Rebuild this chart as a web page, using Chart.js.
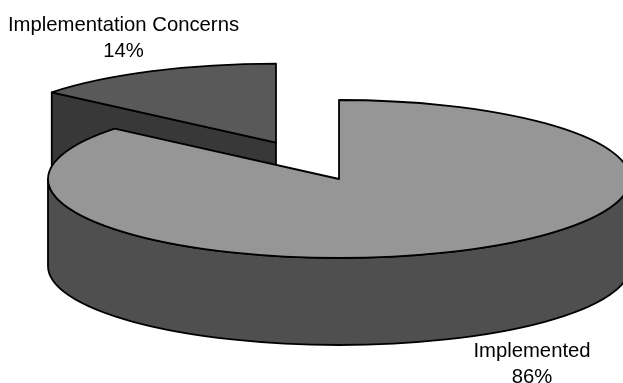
<!DOCTYPE html>
<html>
<head>
<meta charset="utf-8">
<script src="https://cdn.jsdelivr.net/npm/chart.js@4"></script>
<style>
    body { margin: 0; background: #fff; }
    canvas { display: block; }
</style>
</head>
<body>
<canvas id="grafica" width="623" height="383"></canvas>
<script>
const categorias = ["Implemented", "Implementation Concerns"];
const porcentajes = [86, 14];
const separacion = [0, 148];          // how far each slice is pulled out, before tilting
const colorTapa = ["#969696", "#595959"];
const colorLado = ["#4f4f4f", "#383838"];

const INCLINACION = 79 / 291;         // ellipse height / width of the pie top
const PROFUNDIDAD = 87;               // pie wall height
const RADIO = 291;
const GROSOR = 1.8;

// label blocks: centre x and the baseline of each line
const etiquetas = [
    { x: 532, y1: 357, y2: 383 },
    { x: 123.5, y1: 31, y2: 57 }
];

// =========================
// 3D PIE
// =========================
function centroArco(el, i) {
    const medio = (el.startAngle + el.endAngle) / 2;
    return {
        x: el.x + Math.cos(medio) * separacion[i],
        y: el.y + Math.sin(medio) * separacion[i] * INCLINACION
    };
}

function puntoBorde(c, angulo) {
    return {
        x: c.x + Math.cos(angulo) * RADIO,
        y: c.y + Math.sin(angulo) * RADIO * INCLINACION
    };
}

function trazar(ctx, color) {
    ctx.fillStyle = color;
    ctx.fill();
    ctx.lineWidth = GROSOR;
    ctx.lineJoin = "round";
    ctx.strokeStyle = "#000";
    ctx.stroke();
}

// outer wall, only the part of the rim that faces the viewer
function dibujarPared(ctx, el, c, color) {
    const a = Math.max(el.startAngle, 0);
    const b = Math.min(el.endAngle, Math.PI);
    if (b <= a) return;
    ctx.beginPath();
    ctx.ellipse(c.x, c.y, RADIO, RADIO * INCLINACION, 0, a, b);
    ctx.ellipse(c.x, c.y + PROFUNDIDAD, RADIO, RADIO * INCLINACION, 0, b, a, true);
    ctx.closePath();
    trazar(ctx, color);
}

// flat cut face of a pulled out slice
function dibujarCorte(ctx, el, c, color) {
    const p = puntoBorde(c, el.startAngle);
    ctx.beginPath();
    ctx.moveTo(p.x, p.y);
    ctx.lineTo(c.x, c.y);
    ctx.lineTo(c.x, c.y + PROFUNDIDAD);
    ctx.lineTo(p.x, p.y + PROFUNDIDAD);
    ctx.closePath();
    trazar(ctx, color);
}

function dibujarTapa(ctx, el, c) {
    // the fill comes from the arc element itself, moved out and squashed
    ctx.save();
    ctx.translate(c.x - el.x, c.y);
    ctx.scale(1, INCLINACION);
    ctx.translate(0, -el.y);
    el.draw(ctx);
    ctx.restore();

    ctx.beginPath();
    ctx.moveTo(c.x, c.y);
    ctx.ellipse(c.x, c.y, RADIO, RADIO * INCLINACION, 0, el.startAngle, el.endAngle);
    ctx.closePath();
    ctx.lineWidth = GROSOR;
    ctx.lineJoin = "round";
    ctx.strokeStyle = "#000";
    ctx.stroke();
}

const pastel3d = {
    id: "pastel3d",
    beforeDatasetsDraw(chart) {
        const ctx = chart.ctx;
        const arcos = chart.getDatasetMeta(0).data;

        // back slice first, the big one sits in front of it
        [1, 0].forEach(i => {
            const el = arcos[i];
            const c = centroArco(el, i);
            if (separacion[i] > 0) dibujarCorte(ctx, el, c, colorLado[i]);
            dibujarPared(ctx, el, c, colorLado[i]);
            dibujarTapa(ctx, el, c);
        });
        return false;
    },
    afterDraw(chart) {
        const ctx = chart.ctx;
        ctx.save();
        ctx.fillStyle = "#000";
        ctx.font = '20.3px "Liberation Sans"';
        ctx.textAlign = "center";
        categorias.forEach((nombre, i) => {
            ctx.fillText(nombre, etiquetas[i].x, etiquetas[i].y1);
            ctx.fillText(porcentajes[i] + "%", etiquetas[i].x, etiquetas[i].y2);
        });
        ctx.restore();
    }
};

new Chart(document.getElementById("grafica"), {
    type: "pie",
    data: {
        labels: categorias,
        datasets: [{
            data: porcentajes,
            backgroundColor: colorTapa,
            borderWidth: 0
        }]
    },
    options: {
        responsive: false,
        animation: false,
        radius: RADIO,
        layout: { padding: { left: 55, bottom: 25 } },
        plugins: {
            legend: { display: false },
            tooltip: { enabled: false }
        }
    },
    plugins: [pastel3d]
});
</script>
</body>
</html>
